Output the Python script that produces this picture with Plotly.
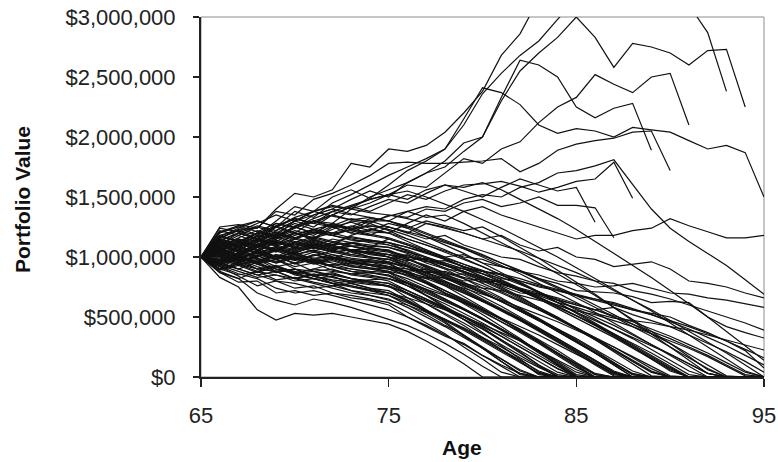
import plotly.graph_objects as go

# Ages (x categories)
ages = [65, 66, 67, 68, 69, 70, 71, 72, 73, 74,
        75, 76, 77, 78, 79, 80, 81, 82, 83, 84,
        85, 86, 87, 88, 89, 90, 91, 92, 93, 94, 95]

# Y-axis tick values / labels (dollars)
y_tickvals = [0, 500000, 1000000, 1500000, 2000000, 2500000, 3000000]
y_ticktext = ["$0", "$500,000", "$1,000,000", "$1,500,000", "$2,000,000", "$2,500,000", "$3,000,000"]
x_tickvals = [65, 75, 85, 95]

N = None
# Portfolio values in $ thousands, one list per simulated path (ages 65..95)
upper_paths = [
    [1000,1150,1230,1240,1400,1530,1500,1560,1780,1750, 1900,1880,1930,2040,2200,2380,2680,2860,3150,3400, 3600,3500,3700,3900,3800,4000,4100,4000,4200,4300,4400],
    [1000,1100,1180,1120,1250,1380,1330,1450,1520,1600, 1680,1750,1820,1900,2100,2360,2530,2680,2800,2980, 3150,3300,3350,3400,3500,3350,3100,2870,2380,N,N],
    [1000,1050,1120,1200,1180,1300,1380,1420,1400,1500, 1560,1620,1700,1800,1950,2000,2300,2550,2700,2830, 3000,2830,2580,2780,2750,2700,2600,2720,2730,2250,N],
    [1000,1200,1250,1180,1300,1420,1380,1500,1560,1490, 1600,1720,1800,1900,2150,2410,2370,2270,2100,2030, 2070,2050,2000,2080,2060,2040,1970,1900,1930,1870,1500],
    [1000,1120,1050,1150,1280,1250,1350,1400,1480,1550, 1500,1620,1700,1750,1880,2000,2330,2640,2600,2500, 2250,2160,2240,2280,1890,N,N,N,N,N,N],
    [1000,980,1100,1180,1150,1260,1300,1280,1400,1450, 1520,1600,1580,1700,1820,1780,1900,1960,2120,2250, 2330,2520,2440,2370,2500,2530,2100,N,N,N,N],
    [1000,1250,1270,1240,1380,1350,1480,1530,1600,1680, 1780,1790,1780,1780,1790,1800,1820,1710,1780,1890, 1940,1970,1990,2040,2050,1720,N,N,N,N,N],
    [1000,1080,1150,1100,1220,1300,1250,1350,1420,1380, 1450,1520,1480,1550,1600,1610,1630,1590,1540,1580, 1630,1650,1790,1490,N,N,N,N,N,N,N],
    [1000,1150,1100,1200,1170,1250,1320,1380,1350,1420, 1480,1450,1530,1600,1550,1500,1580,1650,1600,1550, 1580,1290,N,N,N,N,N,N,N,N,N],
    [1000,1030,1090,1040,1130,1200,1160,1230,1300,1280, 1350,1330,1400,1380,1450,1480,1420,1450,1500,1430, 1430,1410,1160,N,N,N,N,N,N,N,N],
]

middle_paths = [
    [1000,1050,980,1050,1120,1080,1150,1100,1180,1230, 1200,1280,1350,1300,1380,1420,1350,1300,1250,1200, 1150,1180,1180,1220,1240,1320,1260,1210,1160,1160,1180],
    [1000,950,1020,1100,1050,1150,1200,1180,1250,1320, 1300,1380,1420,1400,1480,1520,1500,1580,1620,1700, 1720,1760,1810,1600,1400,1240,1130,1030,930,810,690],
    [1000,1100,1050,1150,1100,1200,1150,1250,1200,1180, 1250,1200,1280,1250,1200,1150,1180,1100,1050,1080, 1000,980,920,940,960,900,800,780,750,700,660],
    [1000,1180,1220,1150,1260,1200,1300,1250,1200,1280, 1220,1150,1100,1050,1000,980,920,880,850,800, 780,750,760,780,740,700,690,660,640,610,580],
    [1000,1080,1140,1100,1180,1250,1200,1280,1230,1300, 1250,1200,1150,1180,1100,1050,1000,980,920,870, 840,800,780,720,690,650,600,550,500,450,390],
    [1000,900,950,1020,980,1050,1100,1050,1120,1080, 1150,1100,1050,1000,1020,950,920,880,820,780, 720,710,700,670,620,630,620,500,420,370,325],
    [1000,1020,980,1060,1000,950,1020,980,1050,1000, 980,1020,950,900,880,820,800,720,680,620, 580,530,490,470,450,420,390,350,310,270,225],
    [1000,960,1040,1000,1080,1030,1100,1060,1120,1080, 1050,1000,980,950,900,880,850,800,760,720, 680,640,600,560,530,500,430,370,300,220,75],
    [1000,1050,1120,1200,1160,1240,1300,1350,1420,1480, 1520,1480,1560,1600,1580,1620,1560,1480,1400,1320, 1230,1130,1030,930,830,720,610,500,380,260,140],
    [1000,1050,990,1040,980,1020,970,1000,950,930, 910,880,900,850,800,820,760,700,690,640, 600,560,580,520,470,420,350,280,210,130,40],
    [1000,940,990,950,1010,970,1020,990,960,980, 950,920,870,880,830,790,800,740,700,660, 610,560,500,440,380,320,250,180,100,20,0],
    [1000,1100,1040,1080,1130,1070,1110,1060,1020,1050, 1000,970,990,930,900,860,820,800,750,720, 680,650,610,560,520,460,400,330,260,180,100],
    [1000,980,1030,990,950,990,940,970,920,900, 880,850,820,830,780,740,720,680,640,600, 550,520,470,420,360,300,240,170,90,10,0],
    [1000,1130,1080,1140,1090,1150,1100,1060,1090,1050, 1020,1000,960,970,920,880,860,820,770,730, 690,650,620,570,520,470,420,360,300,230,160],
    [1000,1010,960,1000,1050,1000,960,990,940,960, 920,900,880,850,860,800,770,730,690,650, 600,560,510,460,400,340,270,200,120,40,0],
]

depleting_paths = [
    [1000,830,750,560,475,530,515,530,500,470, 440,380,300,210,110,0,0,0,0,0, 0,0,0,0,0,0,0,0,0,0,0],
    [1000,870,790,800,700,720,680,700,660,640, 600,500,420,340,280,180,100,30,0,0, 0,0,0,0,0,0,0,0,0,0,0],
    [1000,920,840,760,800,740,760,700,680,650, 620,540,450,360,250,150,40,0,0,0, 0,0,0,0,0,0,0,0,0,0,0],
    [1000,1050,960,900,880,820,850,780,760,720, 680,600,520,430,350,250,150,50,0,0, 0,0,0,0,0,0,0,0,0,0,0],
    [1000,980,1020,940,900,870,820,840,780,740, 700,640,560,480,400,310,220,130,30,0, 0,0,0,0,0,0,0,0,0,0,0],
    [1000,900,850,880,810,830,790,760,780,740, 720,640,540,450,340,240,130,30,0,0, 0,0,0,0,0,0,0,0,0,0,0],
    [1000,1080,1000,950,980,900,880,850,820,790, 750,700,630,560,480,400,310,220,130,40, 0,0,0,0,0,0,0,0,0,0,0],
    [1000,950,900,960,880,900,850,870,820,800, 780,700,610,520,430,330,230,130,20,0, 0,0,0,0,0,0,0,0,0,0,0],
    [1000,1020,960,990,920,950,880,900,850,830, 800,720,650,570,480,400,300,200,100,20, 0,0,0,0,0,0,0,0,0,0,0],
    [1000,1100,1050,1080,1000,950,980,920,880,850, 820,760,680,610,530,450,360,270,180,90, 0,0,0,0,0,0,0,0,0,0,0],
    [1000,940,980,900,930,870,900,880,860,870, 850,760,680,590,500,410,310,210,100,0, 0,0,0,0,0,0,0,0,0,0,0],
    [1000,1060,1120,1050,1000,1040,980,950,920,900, 870,820,750,690,620,540,460,380,290,200, 110,20,0,0,0,0,0,0,0,0,0],
    [1000,960,1000,1040,980,1000,960,930,950,910, 880,800,730,650,570,490,400,310,210,110, 10,0,0,0,0,0,0,0,0,0,0],
    [1000,1130,1100,1180,1120,1080,1050,1000,960,930, 900,850,780,700,640,560,480,400,310,220, 120,30,0,0,0,0,0,0,0,0,0],
    [1000,1000,1060,1010,1060,1020,990,1000,960,940, 920,880,820,760,700,630,560,480,400,320, 230,140,50,0,0,0,0,0,0,0,0],
    [1000,1040,990,1030,1080,1020,1050,1000,980,960, 940,870,800,720,650,570,480,390,300,200, 100,0,0,0,0,0,0,0,0,0,0],
    [1000,1090,1150,1100,1170,1120,1080,1100,1040,1000, 960,920,870,820,760,700,630,560,480,400, 320,230,140,50,0,0,0,0,0,0,0],
    [1000,980,930,970,1020,980,1010,1050,1020,1000, 980,920,850,780,710,640,560,480,390,300, 210,110,20,0,0,0,0,0,0,0,0],
    [1000,1140,1080,1150,1100,1060,1120,1080,1050,1030, 1000,950,890,830,770,700,630,550,470,390, 300,210,120,30,0,0,0,0,0,0,0],
    [1000,920,980,1040,1000,1080,1050,1100,1060,1040, 1020,980,930,870,820,760,700,630,560,490, 410,330,250,160,70,0,0,0,0,0,0],
    [1000,1060,1130,1080,1150,1200,1140,1100,1120,1080, 1050,990,920,850,780,710,630,550,470,380, 290,200,100,0,0,0,0,0,0,0,0],
    [1000,1010,1070,1120,1060,1120,1170,1130,1100,1090, 1080,1040,1000,950,900,840,780,720,650,580, 510,440,360,280,200,110,20,0,0,0,0],
    [1000,1180,1130,1200,1250,1190,1230,1180,1150,1120, 1100,1050,990,930,870,800,730,650,570,490, 410,320,230,140,50,0,0,0,0,0,0],
    [1000,1050,1000,1080,1140,1100,1160,1200,1160,1140, 1120,1080,1040,990,940,890,830,770,710,640, 570,500,430,350,270,190,110,30,0,0,0],
    [1000,1220,1180,1250,1200,1280,1230,1200,1220,1180, 1150,1100,1040,980,920,860,790,720,650,570, 490,410,330,240,150,60,0,0,0,0,0],
    [1000,1160,1220,1180,1260,1320,1280,1250,1290,1240, 1200,1150,1100,1040,980,920,850,780,710,640, 560,480,400,320,230,140,50,0,0,0,0],
    [1000,1130,1200,1260,1220,1300,1350,1400,1360,1330, 1300,1260,1200,1140,1080,1020,950,880,810,740, 660,580,500,420,340,250,160,70,0,0,0],
    [1000,1240,1210,1280,1350,1300,1380,1430,1400,1370, 1350,1320,1280,1240,1200,1150,1100,1050,990,930, 870,800,720,640,560,470,380,290,200,100,0],
    [1000,900,960,1010,950,990,1040,1000,970,960, 950,870,790,700,610,520,420,320,210,100, 0,0,0,0,0,0,0,0,0,0,0],
    [1000,870,820,880,920,860,900,940,900,880, 870,780,680,580,480,370,260,150,40,0, 0,0,0,0,0,0,0,0,0,0,0],
    [1000,930,880,830,850,800,820,780,800,780, 760,660,560,460,350,240,130,20,0,0, 0,0,0,0,0,0,0,0,0,0,0],
    [1000,1090,1040,1100,1050,1120,1080,1040,1060,1030, 1000,920,840,760,670,580,490,390,290,190, 90,0,0,0,0,0,0,0,0,0,0],
    [1000,970,1030,1090,1040,1110,1070,1120,1090,1070, 1060,990,910,830,750,670,590,500,410,320, 230,140,40,0,0,0,0,0,0,0,0],
    [1000,1150,1100,1170,1210,1160,1220,1180,1140,1130, 1120,1050,970,900,820,740,660,570,480,390, 300,200,100,0,0,0,0,0,0,0,0],
    [1000,1200,1260,1210,1280,1240,1300,1260,1230,1210, 1200,1130,1060,990,910,830,750,670,580,490, 400,310,210,110,10,0,0,0,0,0,0],
    [1000,1170,1240,1300,1250,1330,1380,1340,1310,1300, 1300,1240,1170,1100,1030,950,870,790,710,620, 530,440,350,250,150,50,0,0,0,0,0],
    [1000,1120,1080,1030,1090,1050,1110,1080,1060,1070, 1050,1010,970,930,880,830,780,720,660,600, 540,470,400,330,260,190,110,30,0,0,0],
    [1000,1030,970,1010,960,1000,950,980,930,910, 900,870,830,790,740,690,640,580,520,460, 390,320,250,170,90,10,0,0,0,0,0],
    [1000,950,990,940,980,920,950,890,860,840, 820,780,730,680,620,560,490,420,350,270, 190,110,30,0,0,0,0,0,0,0,0],
    [1000,1000,940,900,920,850,820,780,750,720, 700,660,610,560,500,440,370,300,220,140, 60,0,0,0,0,0,0,0,0,0,0],
    [1000,1100,1200,1150,1250,1320,1280,1380,1430,1480, 1520,1550,1500,1440,1380,1310,1240,1160,1080,1000, 910,820,730,640,550,450,350,250,150,50,0],
    [1000,1070,1010,1090,1160,1220,1180,1260,1320,1290, 1340,1380,1330,1350,1280,1200,1120,1040,950,860, 770,680,580,480,380,280,170,60,0,0,0],
    [1000,1130,1090,1160,1110,1180,1230,1200,1260,1220, 1280,1240,1300,1260,1220,1250,1170,1080,990,890, 790,690,580,470,360,250,140,30,0,0,0],
    [1000,880,820,700,640,600,650,620,580,530, 480,430,360,280,190,90,0,0,0,0, 0,0,0,0,0,0,0,0,0,0,0],
    [1000,920,860,820,740,700,720,680,640,600, 560,500,430,350,270,180,90,0,0,0, 0,0,0,0,0,0,0,0,0,0,0],
    [1000,960,900,850,800,780,740,760,720,700, 680,620,550,480,400,320,230,140,50,0, 0,0,0,0,0,0,0,0,0,0,0],
    [1000,1040,980,920,870,900,840,810,790,770, 760,700,640,570,500,420,340,250,160,70, 0,0,0,0,0,0,0,0,0,0,0],
    [1000,900,940,880,850,820,860,830,800,810, 820,760,700,630,560,480,400,310,220,130, 40,0,0,0,0,0,0,0,0,0,0],
    [1000,1060,1010,950,900,860,820,780,720,680, 640,600,540,480,410,330,250,160,80,10, 0,0,0,0,0,0,0,0,0,0,0],
]

more_depleting_paths = [
    [1000,1080,1020,960,1010,940,980,1020,960,930, 900,840,780,700,630,550,460,370,280,180, 80,0,0,0,0,0,0,0,0,0,0],
    [1000,960,1040,1110,1060,1130,1090,1150,1120,1140, 1100,1060,1000,940,880,810,740,660,580,500, 410,320,230,130,40,0,0,0,0,0,0],
    [1000,1110,1060,1000,1070,1030,1090,1040,1010,990, 980,930,860,790,720,640,560,470,380,290, 200,100,10,0,0,0,0,0,0,0,0],
    [1000,1090,1160,1220,1170,1250,1200,1280,1240,1260, 1230,1180,1120,1060,990,920,850,780,700,620, 540,450,360,270,180,90,0,0,0,0,0],
    [1000,1020,940,980,900,860,880,830,800,790, 760,690,610,530,450,360,270,180,90,0, 0,0,0,0,0,0,0,0,0,0,0],
    [1000,1070,1130,1060,1000,1030,960,920,900,870, 840,780,710,640,560,480,390,300,200,100, 0,0,0,0,0,0,0,0,0,0,0],
    [1000,1140,1200,1150,1100,1160,1120,1070,1090,1060, 1040,980,920,860,790,720,650,570,490,400, 310,220,120,20,0,0,0,0,0,0,0],
    [1000,1010,1080,1140,1200,1150,1210,1180,1230,1190, 1160,1110,1060,1000,940,880,810,740,670,590, 510,430,340,250,160,70,0,0,0,0,0],
    [1000,950,1000,960,1020,980,950,990,960,940, 920,860,790,720,640,560,480,390,300,200, 110,20,0,0,0,0,0,0,0,0,0],
    [1000,1210,1260,1300,1250,1320,1280,1350,1310,1330, 1300,1250,1190,1130,1070,1000,930,860,780,700, 620,540,450,360,270,180,90,0,0,0,0],
    [1000,960,1010,940,880,900,840,800,760,730, 700,630,550,470,390,300,210,120,30,0, 0,0,0,0,0,0,0,0,0,0,0],
    [1000,1050,1110,1060,1120,1080,1130,1090,1060,1040, 1020,960,900,840,770,700,630,550,470,380, 290,200,110,20,0,0,0,0,0,0,0],
    [1000,1120,1080,1030,990,1010,960,920,880,870, 850,790,720,650,570,490,400,310,220,120, 20,0,0,0,0,0,0,0,0,0,0],
    [1000,1170,1130,1090,1150,1200,1160,1120,1170,1140, 1120,1080,1030,980,920,860,800,730,660,590, 510,430,350,260,170,80,0,0,0,0,0],
    [1000,1000,950,1010,1060,1020,1060,1020,990,970, 960,900,840,770,700,630,550,470,390,300, 210,120,30,0,0,0,0,0,0,0,0],
    [1000,890,930,870,920,880,840,860,820,800, 780,720,650,580,510,430,340,250,160,70, 0,0,0,0,0,0,0,0,0,0,0],
    [1000,1100,1060,1130,1190,1150,1230,1270,1230,1260, 1250,1210,1170,1120,1070,1010,950,890,820,750, 680,600,520,440,360,280,190,100,10,0,0],
    [1000,1030,1090,1140,1090,1040,1080,1040,1060,1020, 1000,940,870,800,730,650,570,490,400,310, 220,130,40,0,0,0,0,0,0,0,0],
    [1000,940,900,850,880,820,780,740,700,680, 650,580,500,420,330,240,150,60,0,0, 0,0,0,0,0,0,0,0,0,0,0],
    [1000,1070,1020,1080,1130,1090,1140,1100,1120,1100, 1080,1030,970,910,850,780,710,640,560,480, 400,310,220,130,40,0,0,0,0,0,0],
]

FONT = "Liberation Sans, Arial, sans-serif"
LINE_COLOR = "#111111"

fig = go.Figure()
for group in (depleting_paths, more_depleting_paths, middle_paths, upper_paths):
    for path in group:
        assert len(path) == len(ages), (len(path), path[:3])
        fig.add_trace(go.Scatter(
            x=ages,
            y=[None if v is None else v * 1000 for v in path],
            mode="lines",
            line=dict(color=LINE_COLOR, width=1.2),
            showlegend=False,
            hoverinfo="skip",
            connectgaps=False,
        ))

fig.update_layout(
    width=778, height=462,
    margin=dict(l=201, r=14, t=17, b=85),
    paper_bgcolor="white", plot_bgcolor="white",
    font=dict(family=FONT, size=22, color="#222"),
    shapes=[dict(type="rect", xref="paper", yref="paper", x0=0, x1=1, y0=0, y1=1,
                 line=dict(color="#8c8c8c", width=1), layer="below")],
    annotations=[
        dict(text="<b>Age</b>", xref="paper", yref="paper", x=0.463, y=0,
             xanchor="center", yanchor="middle", yshift=-70, showarrow=False,
             font=dict(family=FONT, size=21, color="#111")),
        dict(text="<b>Portfolio Value</b>", xref="paper", yref="paper", x=0, y=0.5,
             xanchor="center", yanchor="middle", xshift=-179, yshift=-3, textangle=-90,
             showarrow=False, font=dict(family=FONT, size=21, color="#111")),
    ],
)
fig.update_xaxes(
    range=[65, 95], tickvals=x_tickvals, ticks="outside", ticklen=8, tickwidth=1.5,
    tickcolor="#222", showline=True, linecolor="#222", linewidth=2, showgrid=False,
    zeroline=False, ticklabelstandoff=10, automargin=False,
)
fig.update_yaxes(
    range=[0, 3000000], tickvals=y_tickvals, ticktext=y_ticktext, ticks="outside",
    ticklen=6, tickwidth=1.5, tickcolor="#222", showline=True, linecolor="#222",
    linewidth=2, showgrid=False, zeroline=False, ticklabelstandoff=13, automargin=False,
)

fig.write_html(
    "out.html",
    config={"displayModeBar": False, "staticPlot": True},
    post_script="document.body.style.margin='0';document.body.style.overflow='hidden';",
)
